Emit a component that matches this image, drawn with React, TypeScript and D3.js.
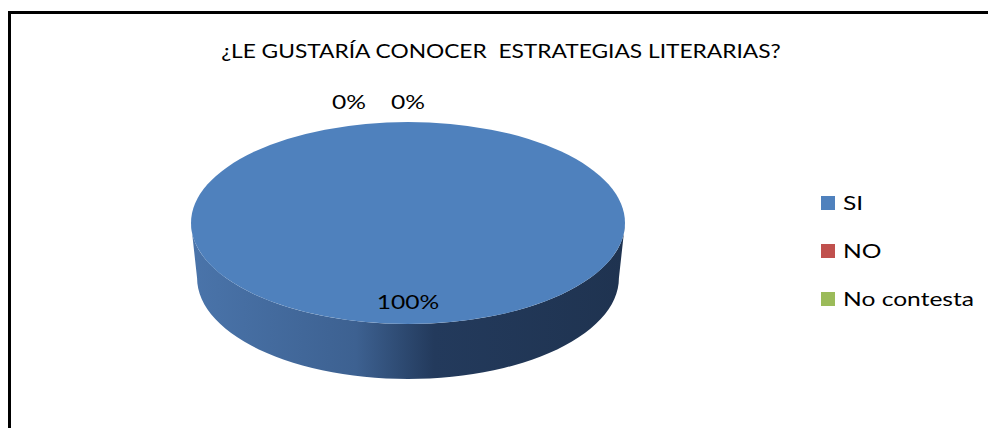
import React from "react";
import * as d3 from "d3";

const categories = ["SI", "NO", "No contesta"];
const values = [100, 0, 0];
const colors = ["#4f81bd", "#c0504d", "#9bbb59"];
const title = "¿LE GUSTARÍA CONOCER  ESTRATEGIAS LITERARIAS?";

const W = 988;
const H = 428;
const cx = 408;
const cy = 223;
const rx = 217;
const ry = 101;
const depth = 55;
const font = "Lato, 'Open Sans', sans-serif";
const sx = 1.23; // widen Lato toward Calibri's look

// point on the top ellipse for a pie angle (0 = 12 o'clock, clockwise)
const pt = (a: number, k = 1, dy = 0, shrink = 1) => [
  cx + Math.sin(a) * rx * k * shrink,
  cy - Math.cos(a) * ry * k + dy,
];

const Label = ({ x, y, size, anchor = "start", children }: any) => (
  <text
    transform={`translate(${x},${y}) scale(${sx},1)`}
    dy="0.35em"
    textAnchor={anchor}
    fontFamily={font}
    fontSize={size}
    fill="#000"
    xmlSpace="preserve"
  >
    {children}
  </text>
);

const App = () => {
  const pie = d3.pie<number>().sort(null).value((d) => d);
  const arcs = pie(values);
  const total = d3.sum(values);
  const fmt = d3.format(".0%");

  // front wall: lower half of top face, then lower half of bottom face back
  const steps = d3.range(0, 61).map((i) => Math.PI / 2 + (Math.PI * i) / 60);
  const wall = d3.path();
  steps.forEach((a, i) => {
    const [x, y] = pt(a);
    i === 0 ? wall.moveTo(x, y) : wall.lineTo(x, y);
  });
  [...steps].reverse().forEach((a) => {
    const [x, y] = pt(a, 1, depth, 0.972);
    wall.lineTo(x, y);
  });
  wall.closePath();

  const legendY = d3.scalePoint<string>().domain(categories).range([203, 299]);
  const nudge = [0, -59, 0];

  return (
    <svg width={W} height={H} style={{ position: "absolute", left: 0, top: 0, background: "#fff" }}>
      <defs>
        <linearGradient id="side" x1="0" x2="1" y1="0" y2="0">
          <stop offset="0%" stopColor="#4a74aa" />
          <stop offset="38%" stopColor="#3d6191" />
          <stop offset="56%" stopColor="#233a5c" />
          <stop offset="100%" stopColor="#1f3350" />
        </linearGradient>
      </defs>
      <rect x={9.5} y={12.5} width={W + 20} height={H + 20} fill="none" stroke="#000" strokeWidth={3} />
      <Label x={501} y={52} size={18.5} anchor="middle">
        {title}
      </Label>

      <path d={wall.toString()} fill="url(#side)" />
      <ellipse cx={cx} cy={cy} rx={rx} ry={ry} fill={colors[0]} />

      {arcs.map((a, i) => {
        const mid = (a.startAngle + a.endAngle) / 2;
        const inside = a.value / total > 0.5;
        const [x, y] = pt(mid, inside ? 0.78 : 1.2);
        return (
          <Label key={i} x={x + nudge[i]} y={y} size={20} anchor="middle">
            {fmt(a.value / total)}
          </Label>
        );
      })}

      {categories.map((c, i) => (
        <g key={c} transform={`translate(821,${legendY(c)})`}>
          <rect x={0} y={-7} width={14} height={14} fill={colors[i]} />
          <Label x={22} y={0} size={20}>
            {c}
          </Label>
        </g>
      ))}
    </svg>
  );
};

export default App;
